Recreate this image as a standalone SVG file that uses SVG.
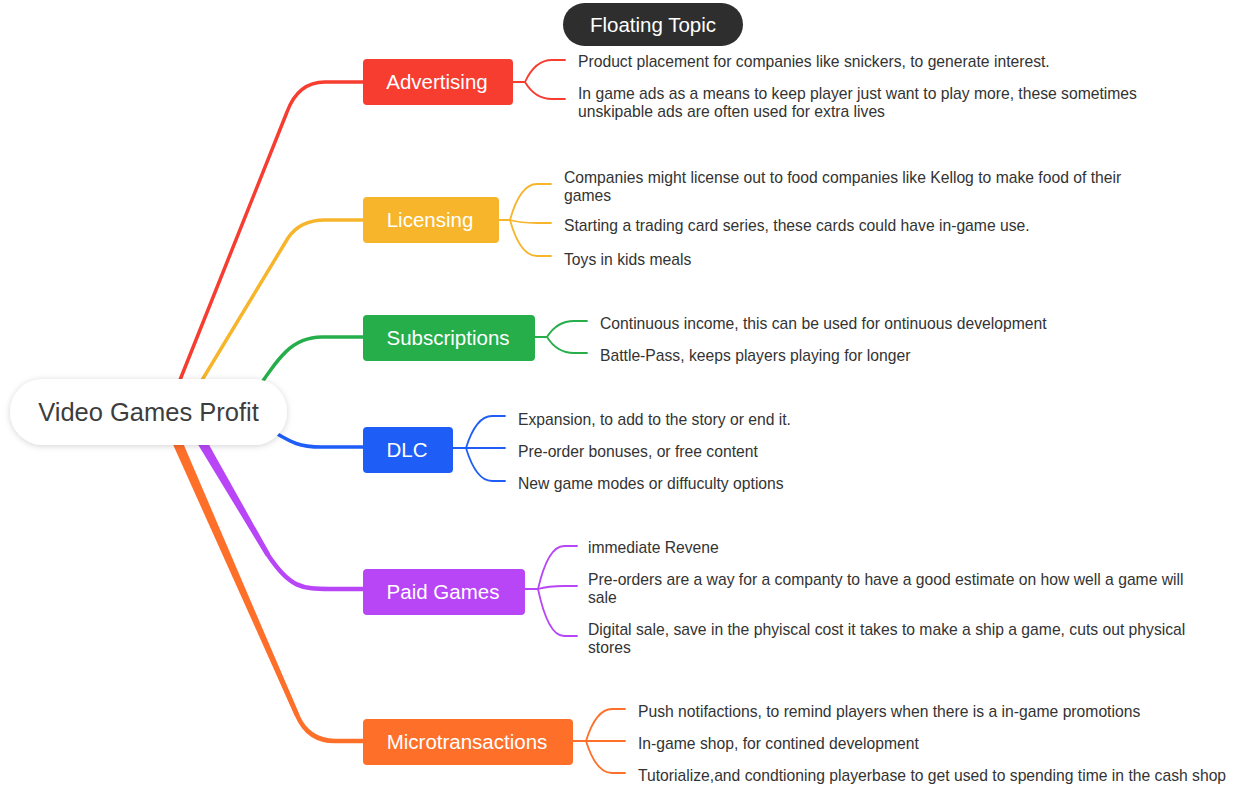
<svg xmlns="http://www.w3.org/2000/svg" width="1240" height="788" viewBox="0 0 1240 788">
<defs>
<filter id="sh" x="-20%" y="-40%" width="140%" height="180%">
<feDropShadow dx="0" dy="1" stdDeviation="3" flood-color="#000" flood-opacity="0.18"/>
</filter>
<style>
text{font-family:"Liberation Sans",Arial,sans-serif}
.main{font-size:20.5px;fill:#fff;text-anchor:middle}
.sub{font-size:15.7px;fill:#333}
.c{fill:none;stroke-linecap:round;stroke-linejoin:round}
.m{stroke-width:3.5}
.s{stroke-width:1.8}
</style>
</defs>
<rect width="1240" height="788" fill="#fff"/>
<g id="connectors">
<path class="c m" stroke="#f73c30" d="M172,400 L287,112 Q298,82 325,82 L363,82"/>
<path class="c m" stroke="#f6b52a" d="M190,400 L288,238 Q300,220 325,220 L363,220"/>
<path class="c m" stroke="#26ae4b" d="M250,400 C280,355 292,337 322,337 L363,337"/>
<path class="c m" stroke="#1e5ef6" d="M262,425 C295,445 300,447 322,447 L363,447"/>
<path class="c" stroke="#b846f7" stroke-width="4.5" d="M195,430 L268,555 C290,588 302,589 330,589 L363,589"/>
<polygon fill="#b846f7" points="199.3,427.5 270.1,553.8 265.9,556.2 190.7,432.5"/>
<path class="c" stroke="#fe6f2a" stroke-width="4.5" d="M172,430 L297,715 Q308,741 335,741 L363,741"/>
<polygon fill="#fe6f2a" points="176.6,428 299.1,714.1 294.9,715.9 167.4,432"/>
<g class="c s" stroke="#f73c30">
<path d="M513,82 L525,82"/>
<path d="M525,82 Q535,60 552,60 L565,60"/>
<path d="M525,82 Q535,99 552,99 L565,99"/>
</g>
<g class="c s" stroke="#f6b52a">
<path d="M499,220 L510,220"/>
<path d="M510,220 Q520,184 537,184 L551,184"/>
<path d="M510,220 Q520,223 537,223 L551,223"/>
<path d="M510,220 Q520,256 537,256 L551,256"/>
</g>
<g class="c s" stroke="#26ae4b">
<path d="M535,337 L547,337"/>
<path d="M547,337 Q557,321 574,321 L587,321"/>
<path d="M547,337 Q557,353 574,353 L587,353"/>
</g>
<g class="c s" stroke="#1e5ef6">
<path d="M453,448 L466,448"/>
<path d="M466,448 Q476,416 492,416 L505,416"/>
<path d="M466,448 L505,448"/>
<path d="M466,448 Q476,481 492,481 L505,481"/>
</g>
<g class="c s" stroke="#b846f7">
<path d="M525,589 L538,589"/>
<path d="M538,589 Q548,546 564,546 L577,546"/>
<path d="M538,589 Q548,586 564,586 L577,586"/>
<path d="M538,589 Q548,636 564,636 L577,636"/>
</g>
<g class="c s" stroke="#fe6f2a">
<path d="M573,741 L586,741"/>
<path d="M586,741 Q596,709 612,709 L625,709"/>
<path d="M586,741 L625,741"/>
<path d="M586,741 Q596,773 612,773 L625,773"/>
</g>
</g>
<g id="root">
<rect x="10" y="379" width="277" height="66" rx="33" fill="#fff" filter="url(#sh)"/>
<text x="148.5" y="421" font-size="25.5" fill="#3d3d3d" text-anchor="middle">Video Games Profit</text>
</g>
<g id="floating">
<rect x="563" y="3" width="180" height="43" rx="21.5" fill="#2e2e2e"/>
<text class="main" x="653" y="31.5">Floating Topic</text>
</g>
<g id="advertising">
<rect x="363" y="59" width="150" height="46" rx="4" fill="#f73c30"/>
<text class="main" x="437" y="89">Advertising</text>
<text class="sub" x="578" y="66.5">Product placement for companies like snickers, to generate interest.</text>
<text class="sub" x="578" y="98.5">In game ads as a means to keep player just want to play more, these sometimes</text>
<text class="sub" x="578" y="116.5">unskipable ads are often used for extra lives</text>
</g>
<g id="licensing">
<rect x="363" y="197" width="136" height="46" rx="4" fill="#f6b52a"/>
<text class="main" x="430" y="227">Licensing</text>
<text class="sub" x="564" y="182.5">Companies might license out to food companies like Kellog to make food of their</text>
<text class="sub" x="564" y="200.5">games</text>
<text class="sub" x="564" y="230.5">Starting a trading card series, these cards could have in-game use.</text>
<text class="sub" x="564" y="264.5">Toys in kids meals</text>
</g>
<g id="subscriptions">
<rect x="363" y="315" width="172" height="46" rx="4" fill="#26ae4b"/>
<text class="main" x="448" y="345">Subscriptions</text>
<text class="sub" x="600" y="328.5">Continuous income, this can be used for ontinuous development</text>
<text class="sub" x="600" y="360.5">Battle-Pass, keeps players playing for longer</text>
</g>
<g id="dlc">
<rect x="363" y="427" width="90" height="46" rx="4" fill="#1e5ef6"/>
<text class="main" x="407" y="457">DLC</text>
<text class="sub" x="518" y="424.5">Expansion, to add to the story or end it.</text>
<text class="sub" x="518" y="456.5">Pre-order bonuses, or free content</text>
<text class="sub" x="518" y="488.5">New game modes or diffuculty options</text>
</g>
<g id="paid-games">
<rect x="363" y="569" width="162" height="46" rx="4" fill="#b846f7"/>
<text class="main" x="443" y="599">Paid Games</text>
<text class="sub" x="588" y="552.5">immediate Revene</text>
<text class="sub" x="588" y="584.5">Pre-orders are a way for a companty to have a good estimate on how well a game will</text>
<text class="sub" x="588" y="602.5">sale</text>
<text class="sub" x="588" y="634.5">Digital sale, save in the phyiscal cost it takes to make a ship a game, cuts out physical</text>
<text class="sub" x="588" y="652.5">stores</text>
</g>
<g id="microtransactions">
<rect x="363" y="719" width="210" height="46" rx="4" fill="#fe6f2a"/>
<text class="main" x="467" y="749">Microtransactions</text>
<text class="sub" x="638" y="716.5">Push notifactions, to remind players when there is a in-game promotions</text>
<text class="sub" x="638" y="748.5">In-game shop, for contined development</text>
<text class="sub" x="638" y="780.5">Tutorialize,and condtioning playerbase to get used to spending time in the cash shop</text>
</g>
</svg>
